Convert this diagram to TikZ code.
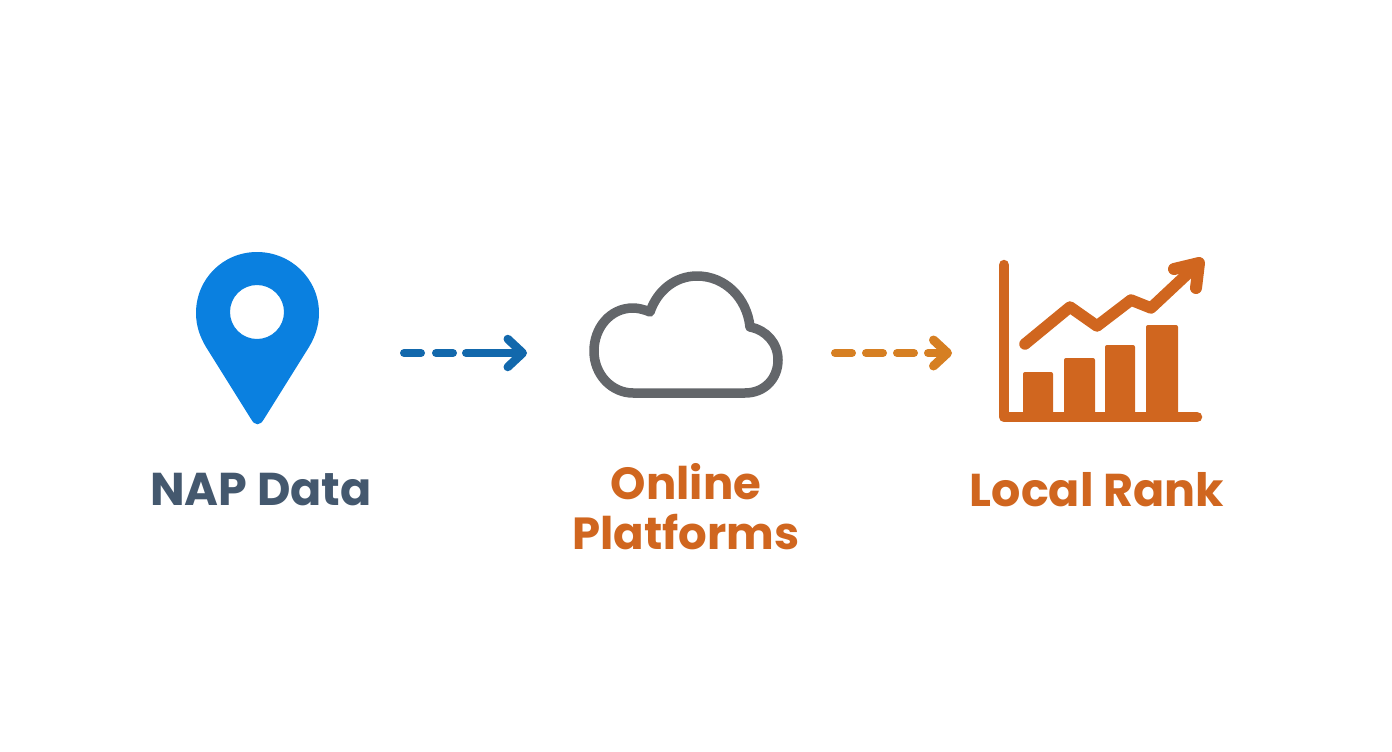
\documentclass[tikz,border=0pt]{standalone}
\usepackage{fontspec}
\setmainfont{Poppins}
\usetikzlibrary{arrows.meta}
\definecolor{pinblue}{HTML}{0A80E0}
\definecolor{arrowblue}{HTML}{1268AC}
\definecolor{cloudgray}{HTML}{63666A}
\definecolor{rankorange}{HTML}{D0661F}
\definecolor{arroworange}{HTML}{D67F22}
\definecolor{napnavy}{HTML}{44586E}
\tikzset{
  label/.style={font=\fontsize{46}{50}\selectfont\bfseries,align=center,inner sep=0pt},
  flow/.style={line width=8pt,line cap=round},
  chartline/.style={rankorange,line width=10.5pt,line cap=round,line join=round}
}

\begin{document}
\begin{tikzpicture}[x=1pt,y=-1pt]
    \useasboundingbox (0,0) rectangle (1392,752);
    % pin
    \fill [pinblue,even odd rule] (257,252) .. controls (291,252) and (319,279) .. (319,313)
      .. controls (319,326) and (315,337) .. (309,347) -- (264,419)
      .. controls (260,426) and (255,426) .. (251,419) -- (206,347)
      .. controls (200,337) and (196,326) .. (196,313)
      .. controls (196,279) and (223,252) .. (257,252) -- cycle
      (257,312) circle [radius=27];
    % cloud
    \draw [cloudgray,line width=9.5pt,line join=round] (633,393) -- (745,393)
      .. controls (765,393) and (778,378) .. (778,360)
      .. controls (778,343) and (766,330) .. (750,327)
      .. controls (747,298) and (725,276) .. (697,276)
      .. controls (675,276) and (657,291) .. (650,312)
      .. controls (643,309) and (637,308) .. (633,308)
      .. controls (610,308) and (594,328) .. (594,351)
      .. controls (594,375) and (612,393) .. (633,393) -- cycle;
    % chart
    \draw [chartline] (1004,265) -- (1004,417) -- (1197,417);
    \fill [rankorange,rounded corners=2pt] (1023,417) rectangle (1053,372);
    \fill [rankorange,rounded corners=2pt] (1064,417) rectangle (1095,358);
    \fill [rankorange,rounded corners=2pt] (1105,417) rectangle (1135,345);
    \fill [rankorange,rounded corners=2pt] (1146,417) rectangle (1178,325);
    \draw [chartline,line width=11.5pt] (1025,344) -- (1070,307) -- (1097,326) -- (1131,300) -- (1151,308) -- (1198,264);
    \draw [chartline,line width=12pt] (1174,269) -- (1199,263) -- (1196,288);
    % connectors
    \coordinate (bluefrom) at (404,353);
    \coordinate (blueto) at (527,353);
    \coordinate (orangefrom) at (835,353);
    \coordinate (orangeto) at (952,353);
    \draw [flow,arrowblue,dash pattern=on 17pt off 15pt on 17pt off 13pt on 90pt off 0pt,
      -{Straight Barb[round,length=15pt,width=28pt,line width=8.5pt]}] (bluefrom) -- (blueto);
    \draw [flow,arroworange,dash pattern=on 17pt off 14pt,
      -{Straight Barb[round,length=14pt,width=26pt,line width=9pt]}] (orangefrom) -- (orangeto);
    % labels
    \node [label,text=napnavy] (nap) at (261,490) {NAP Data};
    \node [label,text=rankorange,font=\fontsize{45}{50}\selectfont\bfseries] (online) at (686,507) {Online\\Platforms};
    \node [label,text=rankorange] (rank) at (1097,490) {Local Rank};
\end{tikzpicture}
\end{document}
